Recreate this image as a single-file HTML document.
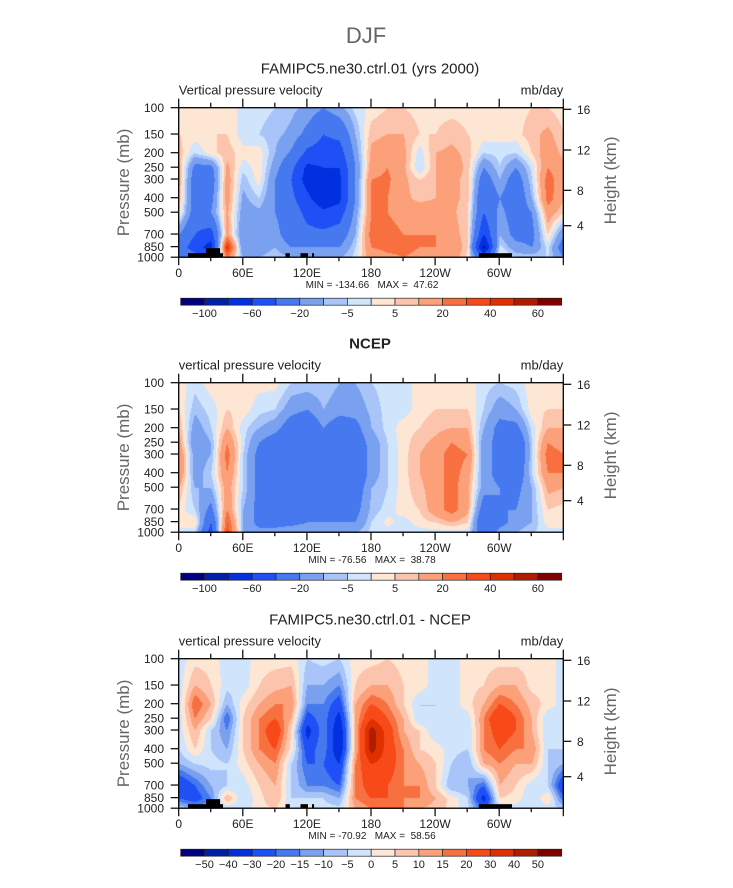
<!DOCTYPE html>
<html><head><meta charset="utf-8">
<style>
html,body{margin:0;padding:0;background:#fff;}
#wrap{position:relative;width:733px;height:888px;overflow:hidden;}
canvas{position:absolute;}
svg{position:absolute;left:0;top:0;}
text{font-family:"Liberation Sans",sans-serif;fill:#222;}
</style></head>
<body>
<div id="wrap">
<canvas id="c0"></canvas>
<canvas id="c1"></canvas>
<canvas id="c2"></canvas>
<svg id="ov" width="733" height="888"></svg>
</div>
<script>
// ---- data ----
const lons = [0,15,30,45,60,75,90,105,120,135,150,165,180,195,210,225,240,255,270,285,300,315,330,345];
const levels = [100,150,200,250,300,400,500,700,850,1000];
const modelOmega = [
[2,5,8,12,12,10,5,-20,-30,-20],
[2,3,-5,-25,-30,-30,-30,-40,-50,-30],
[2,5,3,-25,-30,-25,-20,-50,-70,-40],
[3,5,8,12,15,15,12,15,45,20],
[-2,-3,2,-3,-8,-12,-15,-20,-20,-10],
[-3,-5,3,3,3,-5,-12,-15,-15,-10],
[-5,-8,-10,-15,-20,-20,-20,-15,-10,-5],
[-8,-12,-22,-35,-40,-35,-30,-30,-20,-10],
[-12,-25,-45,-65,-70,-55,-45,-35,-20,-10],
[-20,-40,-50,-60,-70,-75,-55,-35,-20,-10],
[-12,-35,-50,-60,-65,-65,-50,-30,-20,-10],
[-3,-10,-15,-20,-20,-20,-15,-10,-5,-3],
[2,8,12,15,20,20,20,25,20,15],
[5,10,15,20,22,20,20,25,22,18],
[5,10,12,12,12,12,15,20,22,20],
[3,5,-3,-5,5,8,15,20,20,18],
[3,5,10,10,10,10,15,20,20,18],
[3,8,12,15,12,12,12,15,20,15],
[3,5,8,8,8,8,5,5,5,3],
[3,3,-5,-20,-30,-40,-40,-60,-90,-40],
[3,2,-3,-5,-10,-20,-15,-10,-3,5],
[3,3,-5,-20,-30,-35,-30,-25,-15,-5],
[5,8,5,-3,-5,-10,-20,-25,-20,-5],
[5,12,15,20,25,25,15,5,-3,-5]];
const ncepOmega = [
[3,5,10,15,20,20,10,3,3,-3],
[-3,-8,-15,-20,-15,-15,-10,-5,5,-5],
[3,-3,-5,-10,-10,-5,-10,-25,-40,-50],
[3,5,10,20,25,20,15,20,30,35],
[3,3,-3,-3,-5,-5,-5,-10,-10,-10],
[2,-3,-10,-20,-25,-25,-25,-25,-25,-15],
[2,-5,-15,-30,-35,-30,-30,-30,-25,-15],
[-5,-15,-30,-35,-35,-35,-30,-25,-25,-10],
[-5,-20,-35,-40,-40,-40,-30,-25,-20,-10],
[-5,-10,-20,-30,-35,-35,-30,-25,-20,-10],
[-10,-15,-30,-35,-35,-35,-35,-30,-20,-10],
[-10,-15,-25,-30,-35,-35,-30,-25,-20,-10],
[-5,-8,-10,-15,-15,-15,-10,-8,-5,-3],
[-3,-3,-3,-5,-5,-5,-5,-3,2,-3],
[-3,-3,3,3,3,3,3,3,-3,-5],
[3,3,5,8,10,10,8,5,3,-3],
[3,5,8,12,15,15,15,15,5,-3],
[3,5,10,20,25,25,25,25,10,-3],
[3,5,10,15,20,15,12,12,5,-3],
[-3,-5,-10,-15,-15,-15,-15,-30,-40,-30],
[-5,-15,-25,-25,-25,-25,-20,-20,-25,-15],
[-3,-10,-25,-40,-40,-35,-25,-20,-15,-10],
[3,3,-3,-5,-5,-5,-10,-10,-10,-5],
[3,5,10,20,25,20,12,5,3,-3]];
const diffOmega = [
[-3,-3,-3,-3,-3,-5,-10,-30,-20,-5],
[3,10,20,15,10,5,-5,-20,-25,-10],
[3,5,10,5,-5,-5,-3,-10,-15,-10],
[-3,-3,-10,-20,-15,-10,-5,-5,10,-5],
[-3,-3,3,5,5,5,3,-3,-5,-3],
[3,5,10,15,15,15,10,5,3,3],
[3,8,15,20,28,20,15,10,10,5],
[3,10,15,10,5,3,-5,-5,-5,-3],
[-5,-10,-15,-25,-35,-25,-20,-15,-5,3],
[-3,-10,-15,-15,-15,-15,-20,-15,-5,-3],
[-5,-15,-25,-35,-40,-40,-30,-20,-10,-3],
[3,5,10,10,10,10,15,15,15,10],
[3,10,20,30,45,45,30,25,20,15],
[5,10,15,20,25,25,25,20,20,15],
[3,5,5,10,10,15,15,15,15,15],
[3,3,-5,-5,5,5,10,15,15,10],
[-3,-3,-5,-5,-5,3,5,5,10,8],
[-3,-3,-3,-5,-5,-3,-5,-10,3,3],
[3,3,3,-3,-5,-5,-10,-10,-5,-3],
[3,5,10,15,15,15,10,-20,-35,-20],
[3,10,20,30,25,20,15,10,5,-5],
[3,10,15,20,20,15,10,5,3,-3],
[3,3,8,10,10,15,10,-3,-5,-3],
[3,3,3,-5,-5,-5,-5,-5,5,-3]];
const levelsAbs = [-100,-80,-60,-40,-20,-10,-5,0,5,10,20,30,40,50,60];
const levelsDiff = [-50,-40,-30,-20,-15,-10,-5,0,5,10,15,20,30,40,50];
const cbLabelsAbs = ["-100","","-60","","-20","","-5","","5","","20","","40","","60"];
const cbLabelsDiff = ["-50","-40","-30","-20","-15","-10","-5","0","5","10","15","20","30","40","50"];
const colors = ["#000080","#0020a8","#0030e0","#1e50f5","#4678f0","#7aa0f0","#a8c4f8","#d0e4fc","#fee6d4","#fcc4ac","#fca07a","#f87040","#f84a18","#e03000","#b01c00","#800000"];
const pLabels = [100,150,200,250,300,400,500,700,850,1000];
const hLabels = [["16",1.6],["12",42.3],["8",82.6],["4",118]];
const lonLabels = ["0","60E","120E","180","120W","60W"];
// topography blocks: [lonStart, lonEnd, pressureTop]
const topo = [[8.7,41.5,940],[25.6,38.7,870],[100,104,940],[114,121,940],[124.8,126.7,940],[281,312,940]];

const panels = [
 {title:"FAMIPC5.ne30.ctrl.01 (yrs 2000)", sub:"Vertical pressure velocity", data:modelOmega, lv:levelsAbs, cb:cbLabelsAbs, mm:"MIN = -134.66   MAX =  47.62", topo:true, bold:false},
 {title:"NCEP", sub:"vertical pressure velocity", data:ncepOmega, lv:levelsAbs, cb:cbLabelsAbs, mm:"MIN = -76.56   MAX =  38.78", topo:false, bold:true},
 {title:"FAMIPC5.ne30.ctrl.01 - NCEP", sub:"vertical pressure velocity", data:diffOmega, lv:levelsDiff, cb:cbLabelsDiff, mm:"MIN = -70.92   MAX =  58.56", topo:true, bold:false}
];

const X0=178.7, X1=563.3, H=149.5, TOPS=[107.7,382.7,658.7];
const W=X1-X0;
const xOf = lon => X0 + lon/360*W;
const yOf = (p, top) => top + (Math.log(p)-Math.log(100))/(Math.log(1000)-Math.log(100))*H;

function sample(data, lon, p){
  const n=lons.length;
  let li=Math.floor(lon/15), lf=lon/15-li; li=((li%n)+n)%n; const lj=(li+1)%n;
  const lp=Math.log(p); let k=0;
  while(k<levels.length-2 && Math.log(levels[k+1])<lp) k++;
  let kf=(lp-Math.log(levels[k]))/(Math.log(levels[k+1])-Math.log(levels[k]));
  kf=Math.max(0,Math.min(1,kf));
  const a=data[li][k]*(1-kf)+data[li][k+1]*kf;
  const b=data[lj][k]*(1-kf)+data[lj][k+1]*kf;
  return a*(1-lf)+b*lf;
}
function colorIdx(v, lv){ let i=0; while(i<lv.length && v>=lv[i]) i++; return i; }
function hex(c){return [parseInt(c.substr(1,2),16),parseInt(c.substr(3,2),16),parseInt(c.substr(5,2),16)];}
const rgb = colors.map(hex);

const NS="http://www.w3.org/2000/svg";
const svg=document.getElementById('ov');
function el(tag, attrs, txt){ const e=document.createElementNS(NS,tag); for(const k in attrs) e.setAttribute(k,attrs[k]); if(txt!==undefined) e.textContent=txt; svg.appendChild(e); return e; }

let t=el('text',{x:366,y:43,'text-anchor':'middle','font-size':22,style:'fill:#666;font-weight:100'},'DJF');



panels.forEach((P,pi)=>{
  const top=TOPS[pi];
  const cv=document.getElementById('c'+pi);
  const cw=Math.round(W), ch=Math.round(H);
  cv.width=cw; cv.height=ch;
  cv.style.left=X0+'px'; cv.style.top=top+'px';
  const ctx=cv.getContext('2d'); const img=ctx.createImageData(cw,ch);
  for(let y=0;y<ch;y++){
    const p=Math.exp(Math.log(100)+(y+0.5)/ch*(Math.log(1000)-Math.log(100)));
    for(let x=0;x<cw;x++){
      const lon=(x+0.5)/cw*360;
      const c=rgb[colorIdx(sample(P.data,lon,p),P.lv)];
      const o=(y*cw+x)*4; img.data[o]=c[0];img.data[o+1]=c[1];img.data[o+2]=c[2];img.data[o+3]=255;
    }
  }
  ctx.putImageData(img,0,0);

  let e;
  e=el('text',{x:370,y:top-34,'text-anchor':'middle','font-size':15,'font-weight':P.bold?'bold':'normal'},P.title);
  
  
  e=el('text',{x:X0,y:top-13,'font-size':13},P.sub);
  
  
  e=el('text',{x:X1,y:top-13,'text-anchor':'end','font-size':13},'mb/day');
  
  

  if(P.topo){
    topo.forEach(b=>{
      const r=el('rect',{x:xOf(b[0]),y:yOf(b[2],top),width:xOf(b[1])-xOf(b[0]),height:top+H-yOf(b[2],top),fill:'#000'});
      
      
    });
  }
  e=el('rect',{x:X0,y:top,width:W,height:H,fill:'none',stroke:'#000','stroke-width':1.3});
  
  

  for(let lon=0;lon<=360;lon+=30){
    const x=xOf(lon), major=lon%60===0;
    el('line',{x1:x,x2:x,y1:top,y2:top-(major?9:5),stroke:'#000','stroke-width':1.2});
    el('line',{x1:x,x2:x,y1:top+H,y2:top+H+(major?8:4),stroke:'#000','stroke-width':1.2});
  }
  lonLabels.forEach((s,i)=>{
    e=el('text',{x:xOf(i*60),y:top+H+20,'text-anchor':'middle','font-size':12},s);
    
    
  });
  pLabels.forEach(p=>{
    const y=yOf(p,top);
    el('line',{x1:X0,x2:X0-8,y1:y,y2:y,stroke:'#000','stroke-width':1.2});
    e=el('text',{x:164,y:y+4.5,'text-anchor':'end','font-size':12},String(p));
    
    
  });
  hLabels.forEach(h=>{
    const y=top+h[1];
    el('line',{x1:X1,x2:X1+8,y1:y,y2:y,stroke:'#000','stroke-width':1.2});
    e=el('text',{x:577,y:y+4.5,'font-size':12},h[0]);
    
    
  });
  e=el('text',{x:0,y:0,'text-anchor':'middle','font-size':17,transform:`translate(129,${top+H/2}) rotate(-90)`,style:'fill:#666'},'Pressure (mb)');
  
  
  e=el('text',{x:0,y:0,'text-anchor':'middle','font-size':17,transform:`translate(616,${top+H/2-2}) rotate(-90)`,style:'fill:#666'},'Height (km)');
  
  
  e=el('text',{x:372,y:top+H+31,'text-anchor':'middle','font-size':10,style:'white-space:pre'},P.mm);
  
  

  const cy=top+190.5, cx0=180.7, cbw=381/16;
  colors.forEach((c,i)=>{
    const r=el('rect',{x:cx0+i*cbw,y:cy,width:cbw,height:7,fill:c,stroke:'#222','stroke-width':0.7});
    
    
  });
  P.cb.forEach((s,i)=>{
    if(!s) return;
    e=el('text',{x:cx0+(i+1)*cbw,y:cy+19,'text-anchor':'middle','font-size':11},s.replace('-','\u2212'));
    
    
  });
});
</script>
</body></html>
